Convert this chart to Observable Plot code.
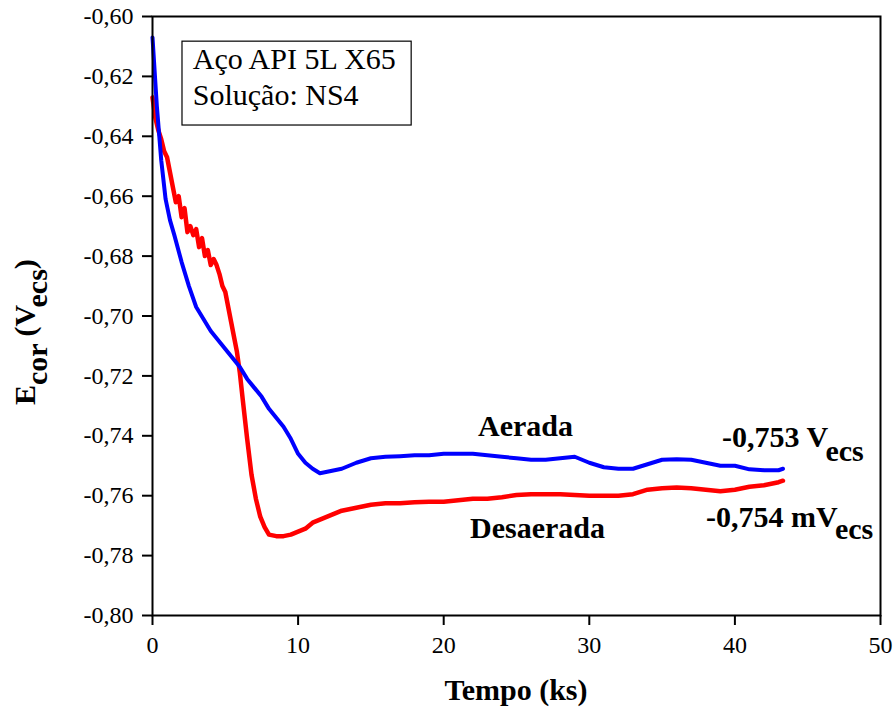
<!DOCTYPE html>
<html><head><meta charset="utf-8">
<script src="https://cdn.jsdelivr.net/npm/d3@7"></script>
<script src="https://cdn.jsdelivr.net/npm/@observablehq/plot@0.6"></script>
<style>
body{margin:0;background:#fff}
svg{font-family:"Liberation Serif","Times New Roman",serif}
</style>
</head><body><div id="chart"></div>
<script>
// Time (ks) and corrosion potential (V_ecs)
const timeAerada = [0, 0.3, 0.6, 0.9, 1.2, 1.5, 2.0, 2.5, 3.0, 3.5, 4.0, 4.5, 5.0, 5.5, 6.0, 6.5, 7.0, 7.5, 8.0, 8.5, 9.0, 9.5, 10.0, 10.5, 11.0, 11.5, 12.0, 12.5, 13, 14, 15, 16, 17, 18, 19, 20, 21, 22, 23, 24, 25, 26, 27, 28, 29, 30, 31, 32, 33, 34, 35, 36, 37, 38, 39, 40, 41, 42, 43, 43.3];
const eAerada = [-0.607, -0.630, -0.648, -0.661, -0.668, -0.673, -0.682, -0.690, -0.697, -0.701, -0.705, -0.708, -0.711, -0.714, -0.717, -0.721, -0.724, -0.727, -0.731, -0.734, -0.737, -0.741, -0.746, -0.749, -0.751, -0.7525, -0.752, -0.7515, -0.751, -0.749, -0.7475, -0.747, -0.7468, -0.7465, -0.7465, -0.746, -0.746, -0.746, -0.7465, -0.747, -0.7475, -0.748, -0.748, -0.7475, -0.747, -0.749, -0.7505, -0.751, -0.751, -0.7495, -0.748, -0.7478, -0.748, -0.749, -0.750, -0.750, -0.7512, -0.7515, -0.7515, -0.751];

const timeDesaerada = [0, 0.2, 0.4, 0.6, 0.8, 1.0, 1.2, 1.4, 1.6, 1.8, 2.0, 2.2, 2.4, 2.6, 2.8, 3.0, 3.2, 3.4, 3.6, 3.8, 4.0, 4.2, 4.4, 4.6, 4.8, 5.0, 5.2, 5.4, 5.6, 5.8, 6.0, 6.2, 6.5, 6.8, 7.1, 7.4, 7.7, 8.0, 8.5, 9.0, 9.5, 10, 10.5, 11, 11.5, 12, 13, 14, 15, 16, 17, 18, 19, 20, 21, 22, 23, 24, 25, 26, 27, 28, 29, 30, 31, 32, 33, 34, 35, 36, 37, 38, 39, 40, 41, 42, 43, 43.3];
const eDesaerada = [-0.627, -0.634, -0.638, -0.641, -0.645, -0.647, -0.652, -0.657, -0.662, -0.660, -0.667, -0.664, -0.672, -0.670, -0.673, -0.671, -0.677, -0.674, -0.680, -0.678, -0.683, -0.681, -0.683, -0.686, -0.690, -0.692, -0.697, -0.702, -0.707, -0.712, -0.719, -0.728, -0.741, -0.753, -0.761, -0.767, -0.7705, -0.773, -0.7735, -0.7735, -0.773, -0.772, -0.771, -0.769, -0.768, -0.767, -0.765, -0.764, -0.763, -0.7625, -0.7625, -0.7622, -0.762, -0.762, -0.7615, -0.761, -0.761, -0.7605, -0.7598, -0.7595, -0.7595, -0.7595, -0.7598, -0.760, -0.760, -0.760, -0.7595, -0.758, -0.7575, -0.7573, -0.7575, -0.758, -0.7585, -0.758, -0.757, -0.7565, -0.7555, -0.755];

const xTicks = [0, 10, 20, 30, 40, 50];
const yTicks = [-0.80, -0.78, -0.76, -0.74, -0.72, -0.70, -0.68, -0.66, -0.64, -0.62, -0.60];

const aerada = timeAerada.map((t, i) => ({t, e: eAerada[i]}));
const desaerada = timeDesaerada.map((t, i) => ({t, e: eDesaerada[i]}));

const chart = Plot.plot({
  width: 894, height: 708,
  marginLeft: 152, marginRight: 14, marginTop: 16, marginBottom: 93,
  style: {fontFamily: "Liberation Serif", fontSize: "24px", color: "black", background: "white"},
  x: {domain: [0, 50]},
  y: {domain: [-0.80, -0.60]},
  marks: [
    Plot.line(desaerada, {x: "t", y: "e", stroke: "#ff0000", strokeWidth: 4.5}),
    Plot.line(aerada, {x: "t", y: "e", stroke: "#0000ff", strokeWidth: 4}),
    Plot.frame({stroke: "black", strokeWidth: 2}),
    Plot.axisX({ticks: xTicks, tickSize: 10, tickPadding: 10, tickFormat: d => String(d), fontSize: 24, label: null, strokeWidth: 2}),
    Plot.axisY({ticks: yTicks, tickSize: 10, tickPadding: 9, tickFormat: d => d.toFixed(2).replace(".", ","), fontSize: 24, label: null, strokeWidth: 2})
  ]
});
document.getElementById("chart").appendChild(chart);

const sx = v => chart.scale("x").apply(v);
const sy = v => chart.scale("y").apply(v);
const svg = d3.select(chart);

// annotation box
const box = {x1: 2.06, x2: 17.8, y1: -0.6084, y2: -0.6364};
svg.append("rect")
  .attr("x", sx(box.x1)).attr("y", sy(box.y1))
  .attr("width", sx(box.x2) - sx(box.x1)).attr("height", sy(box.y2) - sy(box.y1))
  .attr("fill", "white").attr("stroke", "black").attr("stroke-width", 1.2);
svg.append("text").attr("x", sx(2.8)).attr("y", sy(-0.6177)).attr("font-size", 30)
  .attr("text-anchor", "start").attr("fill", "black").text("Aço API 5L X65");
svg.append("text").attr("x", sx(2.8)).attr("y", sy(-0.6297)).attr("font-size", 30)
  .attr("text-anchor", "start").attr("fill", "black").text("Solução: NS4");

function subText(x, y, parts, anchor) {
  const t = svg.append("text").attr("x", x).attr("y", y).attr("font-size", 30)
    .attr("font-weight", "bold").attr("text-anchor", anchor || "start").attr("fill", "black");
  let cur = 0;
  for (const [s, shift] of parts) {
    t.append("tspan").attr("dy", shift - cur).text(s);
    cur = shift;
  }
  return t;
}

subText(sx(25.65), sy(-0.7402), [["Aerada", 0]], "middle");
subText(sx(26.48), sy(-0.7743), [["Desaerada", 0]], "middle");
subText(sx(39.15), sy(-0.7439), [["-0,753 V", 0], ["ecs", 14]]);
subText(sx(38.05), sy(-0.7706), [["-0,754 mV", 0], ["ecs", 12]]);

// axis titles
subText(sx(25), 700, [["Tempo (ks)", 0]], "middle");
const yl = svg.append("g").attr("transform", "translate(35,405) rotate(-90)");
const ylt = yl.append("text").attr("font-size", 30).attr("font-weight", "bold")
  .attr("fill", "black").attr("text-anchor", "start");
ylt.append("tspan").text("E");
ylt.append("tspan").attr("dy", 12).text("cor");
ylt.append("tspan").attr("dy", -12).text(" (V");
ylt.append("tspan").attr("dy", 12).text("ecs");
ylt.append("tspan").attr("dy", -12).text(")");
</script>
</body></html>
